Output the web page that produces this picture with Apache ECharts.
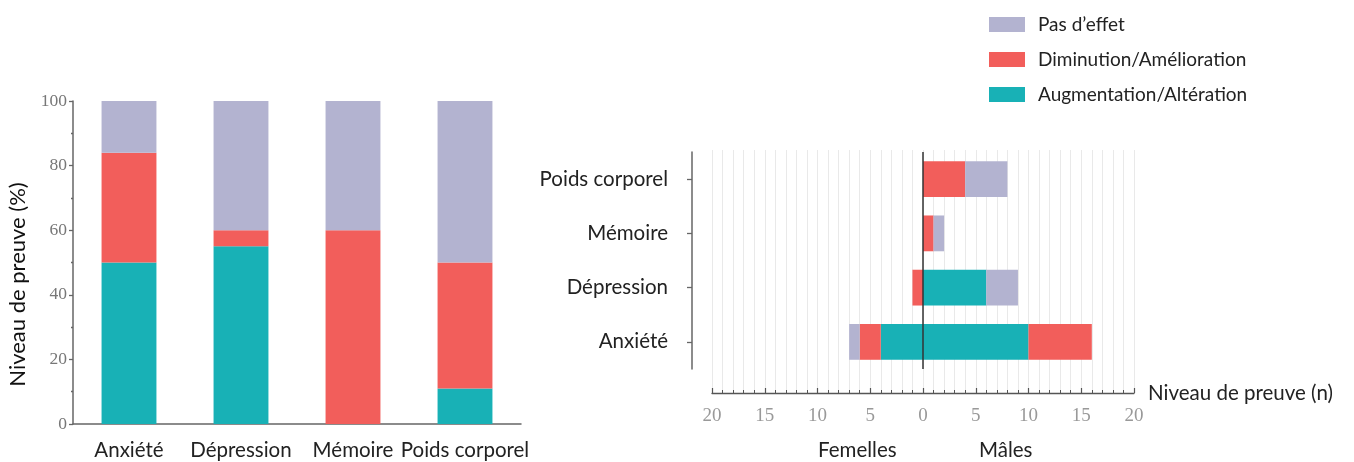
<!DOCTYPE html>
<html>
<head>
<meta charset="utf-8">
<script src="https://cdn.jsdelivr.net/npm/echarts@6/dist/echarts.min.js"></script>
<style>
html,body{margin:0;padding:0;background:#fff;}
#c{width:1354px;height:462px;}
</style>
</head>
<body>
<div id="c"></div>
<script>
// ---- data ----
const categories = ['Anxiété', 'Dépression', 'Mémoire', 'Poids corporel'];
const seriesNames = ['Pas d\u2019effet', 'Diminution/Amélioration', 'Augmentation/Altération'];
// Left panel: percentage of evidence
const pctAugmentation = [50, 55, 0, 11];
const pctDiminution = [34, 5, 60, 39];
const pctPasEffet = [16, 40, 40, 50];
// Right panel: number of studies (females drawn to the left)
const femAugmentation = [4, 0, 0, 0];
const femDiminution = [2, 1, 0, 0];
const femPasEffet = [1, 0, 0, 0];
const maleAugmentation = [10, 6, 0, 0];
const maleDiminution = [6, 0, 1, 4];
const malePasEffet = [0, 3, 1, 4];
const leftTicks = [0, 20, 40, 60, 80, 100];
const rightTicks = [-20, -15, -10, -5, 0, 5, 10, 15, 20];

// ---- style ----
const C_PAS = '#B3B3D0';
const C_DIM = '#F25E5B';
const C_AUG = '#18B1B6';
const SANS = 'Lato, "Open Sans", sans-serif';
const SERIF = '"Liberation Serif", "DejaVu Serif", serif';
const FS = 20.5;
const neg = a => a.map(v => -v);

const chart = echarts.init(document.getElementById('c'), null, {renderer: 'canvas'});

const option = {
  backgroundColor: '#fff',
  animation: false,
  legend: {
    orient: 'vertical',
    left: 984, top: 10,
    itemWidth: 36, itemHeight: 15,
    itemGap: 16,
    icon: 'rect',
    data: seriesNames,
    textStyle: {fontFamily: SANS, fontSize: 19, color: '#222', padding: [0, 0, 0, 8]}
  },
  grid: [
    {left: 73, top: 101, width: 448, height: 323},
    {left: 712, top: 152, width: 422, height: 217},
    {left: 712, top: 150, width: 422, height: 243}
  ],
  xAxis: [
    {
      type: 'category', gridIndex: 0, data: categories,
      axisLine: {lineStyle: {color: '#666', width: 1.5}},
      axisTick: {alignWithLabel: true, length: 5, lineStyle: {color: '#666', width: 1.5}},
      axisLabel: {interval: 0, fontFamily: SANS, fontSize: FS, color: '#222', margin: 16}
    },
    {type: 'value', gridIndex: 1, min: -20, max: 20, interval: 5, show: false},
    {
      type: 'value', gridIndex: 2, min: rightTicks[0], max: rightTicks[rightTicks.length - 1], interval: 5,
      axisLine: {show: true, lineStyle: {color: '#555', width: 1.3}},
      axisTick: {show: true, inside: true, length: 5, lineStyle: {color: '#555', width: 1.2}},
      minorTick: {show: true, splitNumber: 5, length: 3, lineStyle: {color: '#555', width: 1}},
      splitLine: {show: true, lineStyle: {color: '#e9e9e9', width: 1}},
      minorSplitLine: {show: true, lineStyle: {color: '#e9e9e9', width: 1}},
      axisLabel: {fontFamily: SERIF, fontSize: 19, color: '#999', margin: 14,
        formatter: v => String(Math.abs(v))},
      name: 'Niveau de preuve (n)', nameLocation: 'end', nameGap: 14,
      nameTextStyle: {fontFamily: SANS, fontSize: FS, color: '#222', verticalAlign: 'middle', padding: [5, 0, 0, 0]}
    }
  ],
  yAxis: [
    {
      type: 'value', gridIndex: 0, min: 0, max: 100, interval: 20,
      axisLine: {show: true, lineStyle: {color: '#666', width: 1.5}},
      axisTick: {show: true, length: 4, lineStyle: {color: '#666', width: 1.3}},
      minorTick: {show: true, splitNumber: 2, length: 2, lineStyle: {color: '#666', width: 1.3}},
      splitLine: {show: false},
      axisLabel: {fontFamily: SERIF, fontSize: 17.5, color: '#777', margin: 6},
      name: 'Niveau de preuve (%)', nameLocation: 'middle', nameGap: 44,
      nameTextStyle: {fontFamily: SANS, fontSize: 22, color: '#111', padding: [0, 44, 0, 0]}
    },
    {
      type: 'category', gridIndex: 1, data: categories, offset: 20,
      axisLine: {show: true, onZero: false, lineStyle: {color: '#666', width: 1.5}},
      axisTick: {show: true, alignWithLabel: true, length: 5, lineStyle: {color: '#666', width: 1.3}},
      axisLabel: {fontFamily: SANS, fontSize: FS, color: '#222', margin: 24}
    },
    {type: 'value', gridIndex: 2, show: false, min: 0, max: 1}
  ],
  graphic: [
    {type: 'text', left: 818, top: 440, style: {text: 'Femelles', font: FS + 'px ' + SANS, fill: '#222'}},
    {type: 'text', left: 979, top: 440, style: {text: 'Mâles', font: FS + 'px ' + SANS, fill: '#222'}}
  ],
  series: [
    // left panel
    {name: seriesNames[2], type: 'bar', stack: 'pct', xAxisIndex: 0, yAxisIndex: 0, barWidth: '49%',
      itemStyle: {color: C_AUG}, data: pctAugmentation},
    {name: seriesNames[1], type: 'bar', stack: 'pct', xAxisIndex: 0, yAxisIndex: 0, barWidth: '49%',
      itemStyle: {color: C_DIM}, data: pctDiminution},
    {name: seriesNames[0], type: 'bar', stack: 'pct', xAxisIndex: 0, yAxisIndex: 0, barWidth: '49%',
      itemStyle: {color: C_PAS}, data: pctPasEffet},
    // right panel - females (negative side)
    {name: seriesNames[2], type: 'bar', stack: 'n', xAxisIndex: 1, yAxisIndex: 1, barWidth: '66%',
      itemStyle: {color: C_AUG}, data: neg(femAugmentation),
      markLine: {symbol: 'none', silent: true, label: {show: false},
        lineStyle: {color: '#333', width: 1.5, type: 'solid'}, data: [{xAxis: 0}]}},
    {name: seriesNames[1], type: 'bar', stack: 'n', xAxisIndex: 1, yAxisIndex: 1, barWidth: '66%',
      itemStyle: {color: C_DIM}, data: neg(femDiminution)},
    {name: seriesNames[0], type: 'bar', stack: 'n', xAxisIndex: 1, yAxisIndex: 1, barWidth: '66%',
      itemStyle: {color: C_PAS}, data: neg(femPasEffet)},
    // right panel - males (positive side)
    {name: seriesNames[2], type: 'bar', stack: 'n', xAxisIndex: 1, yAxisIndex: 1, barWidth: '66%',
      itemStyle: {color: C_AUG}, data: maleAugmentation},
    {name: seriesNames[1], type: 'bar', stack: 'n', xAxisIndex: 1, yAxisIndex: 1, barWidth: '66%',
      itemStyle: {color: C_DIM}, data: maleDiminution},
    {name: seriesNames[0], type: 'bar', stack: 'n', xAxisIndex: 1, yAxisIndex: 1, barWidth: '66%',
      itemStyle: {color: C_PAS}, data: malePasEffet}
  ]
};
chart.setOption(option);
</script>
</body>
</html>
